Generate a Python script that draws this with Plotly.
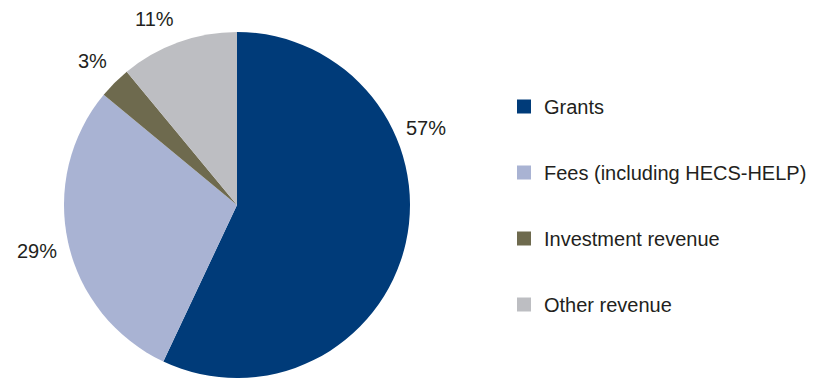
import math
import plotly.graph_objects as go

# Revenue composition (per cent of total)
categories = ["Grants", "Fees (including HECS-HELP)", "Investment revenue", "Other revenue"]
shares = [57, 29, 3, 11]
colors = ["#003B79", "#A9B3D3", "#6E6A4E", "#BDBEC2"]
# angular nudge (degrees, clockwise) applied to each percentage label
label_nudge = [-35, 0, 0, -4]

W, H = 818, 378
FONT = "Liberation Sans, Arial, sans-serif"
TEXT = "#231F20"

# pie placement in pixels (centre and radius)
cx, cy, r = 237, 206, 174
dom_x = [(cx - r) / W, (cx + r) / W]
dom_y = [1 - (cy + r) / H, 1 - (cy - r) / H]
dom_y = [max(0.0, dom_y[0]), min(1.0, dom_y[1])]

fig = go.Figure()
fig.add_trace(go.Pie(
    labels=categories,
    values=shares,
    sort=False,
    direction="clockwise",
    rotation=0,
    marker=dict(colors=colors, line=dict(width=0)),
    textinfo="none",
    hoverinfo="label+percent",
    showlegend=False,
    domain=dict(x=dom_x, y=dom_y),
))

# legend entries as square markers, one group each so they can be spaced out
for name, col in zip(categories, colors):
    fig.add_trace(go.Scatter(
        x=[None], y=[None], mode="markers", name=name,
        marker=dict(symbol="square", size=14, color=col),
        legendgroup=name, showlegend=True,
    ))

# percentage labels placed outside each slice
total = sum(shares)
start = 0.0
for v, nudge in zip(shares, label_nudge):
    mid = start + v / total * 360 / 2 + nudge
    start += v / total * 360
    a = math.radians(mid)
    lx = cx + 1.19 * 172 * math.sin(a)
    ly = cy - 1.19 * 172 * math.cos(a)
    fig.add_annotation(
        x=lx / W, y=1 - ly / H, xref="paper", yref="paper",
        text=f"{round(v / total * 100)}%", showarrow=False,
        font=dict(family=FONT, size=20, color=TEXT),
        xanchor="center", yanchor="middle",
    )

fig.update_layout(
    width=W, height=H,
    margin=dict(l=0, r=0, t=0, b=0),
    paper_bgcolor="white", plot_bgcolor="white",
    xaxis=dict(visible=False), yaxis=dict(visible=False),
    font=dict(family=FONT, size=20, color=TEXT),
    legend=dict(
        x=(524 - 20) / W, xanchor="left",
        y=1 - 87 / H, yanchor="top",
        tracegroupgap=37,
        font=dict(family=FONT, size=20, color=TEXT),
        itemclick=False,
    ),
)

fig.write_html("out.html")
